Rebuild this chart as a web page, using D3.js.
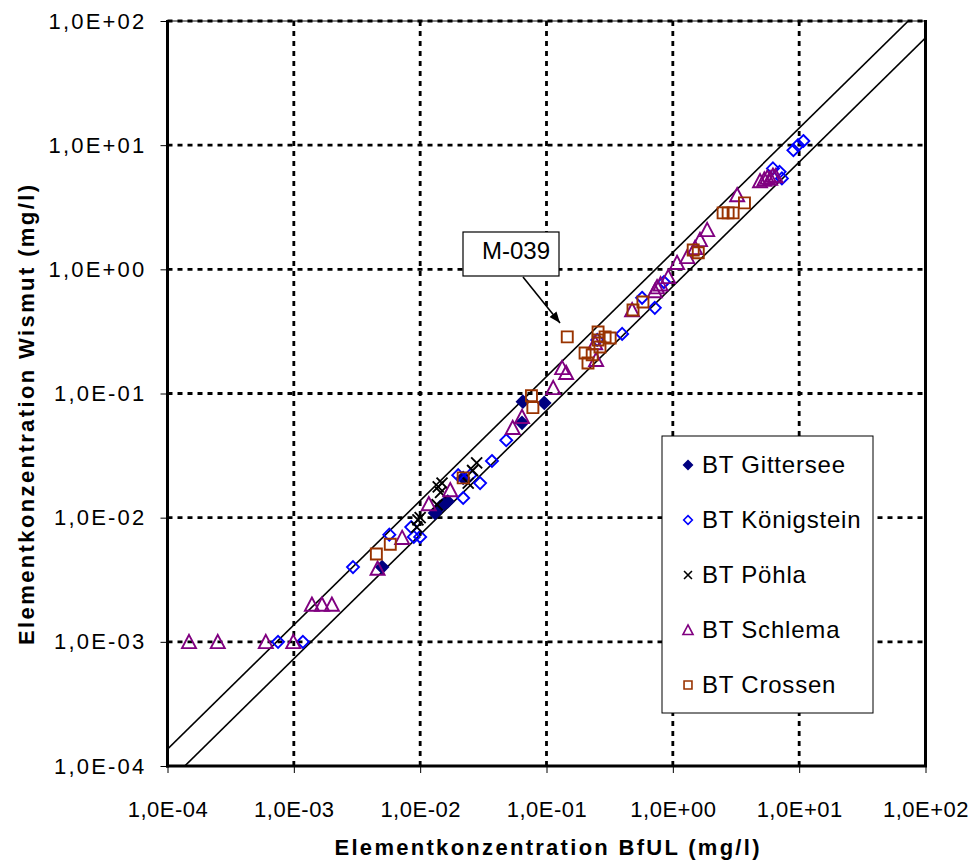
<!DOCTYPE html>
<html>
<head>
<meta charset="utf-8">
<script src="https://cdn.jsdelivr.net/npm/d3@7"></script>
<style>
  body { margin: 0; background: #fff; }
  text { font-family: "Liberation Sans", Arial, sans-serif; }
</style>
</head>
<body>
<div id="chart"></div>
<script>
// series: [BfUL, Wismut] in mg/l
var gittersee = [
  [5.0e-3, 4.0e-3], [1.31e-2, 1.09e-2], [1.44e-2, 1.22e-2], [1.57e-2, 1.31e-2],
  [1.65e-2, 1.35e-2], [2.19e-2, 2.09e-2], [6.4e-2, 5.8e-2], [6.5e-2, 8.6e-2],
  [9.6e-2, 8.4e-2]
];
var koenigstein = [
  [7.5e-4, 1.0e-3], [1.18e-3, 1.0e-3], [2.94e-3, 4.0e-3], [5.7e-3, 7.3e-3],
  [8.5e-3, 8.4e-3], [8.9e-3, 7.0e-3], [1.0e-2, 7.0e-3], [2.0e-2, 2.2e-2],
  [2.19e-2, 1.44e-2], [2.5e-2, 2.2e-2], [2.98e-2, 1.9e-2], [3.7e-2, 2.86e-2],
  [4.8e-2, 4.2e-2], [0.252, 0.27], [0.397, 0.302], [0.571, 0.59],
  [0.72, 0.49], [0.85, 0.79], [6.2, 6.5], [7.0, 6.1], [7.3, 5.4],
  [9.0, 9.1], [9.8, 10.0], [10.8, 10.8]
];
var poehla = [
  [9.4e-3, 8.4e-3], [9.6e-3, 9.6e-3], [1.0e-2, 1.0e-2], [1.36e-2, 1.27e-2],
  [1.39e-2, 1.77e-2], [1.49e-2, 1.9e-2], [1.45e-2, 1.6e-2], [2.4e-2, 1.9e-2],
  [2.6e-2, 2.4e-2], [2.8e-2, 2.76e-2]
];
var schlema = [
  [1.48e-4, 1.0e-3], [2.5e-4, 1.0e-3], [6.0e-4, 1.0e-3], [9.9e-4, 1.0e-3],
  [1.39e-3, 2.0e-3], [1.67e-3, 2.0e-3], [2.0e-3, 2.0e-3], [4.6e-3, 3.9e-3],
  [7.2e-3, 6.9e-3], [1.17e-2, 1.29e-2], [1.73e-2, 1.67e-2], [5.4e-2, 5.3e-2],
  [6.4e-2, 6.5e-2], [0.113, 0.111], [0.133, 0.161], [0.143, 0.147],
  [0.247, 0.187], [0.243, 0.255], [0.476, 0.471], [0.72, 0.67],
  [0.75, 0.72], [0.8, 0.76], [0.92, 0.87], [1.08, 1.13], [1.30, 1.26],
  [1.50, 1.49], [1.64, 1.73], [1.87, 2.08], [3.23, 3.97],
  [4.9, 5.15], [5.3, 5.3], [5.6, 5.5], [5.9, 5.4], [6.2, 5.7], [6.5, 5.65]
];
var crossen = [
  [4.5e-3, 5.1e-3], [5.8e-3, 6.1e-3], [2.19e-2, 2.09e-2], [7.6e-2, 9.6e-2],
  [7.8e-2, 7.7e-2], [0.146, 0.286], [0.202, 0.212], [0.213, 0.176],
  [0.23, 0.205], [0.256, 0.313], [0.256, 0.27], [0.265, 0.237],
  [0.291, 0.286], [0.319, 0.28], [0.484, 0.471], [0.58, 0.546],
  [1.45, 1.43], [1.59, 1.36], [2.50, 2.85], [2.74, 2.85], [3.0, 2.85],
  [3.69, 3.43]
];

var legendLabels = ["BT Gittersee", "BT Königstein", "BT Pöhla", "BT Schlema", "BT Crossen"];
var tickValues = [1e-4, 1e-3, 1e-2, 1e-1, 1e0, 1e1, 1e2];
var bandFactors = [1.37, 1 / 1.37];

var Chart = {
  settings: {
    width: 978,
    height: 863,
    left: 167.5,
    right: 925.5,
    top: 21,
    bottom: 766
  },

  series: [
    { key: "gittersee", data: gittersee, symbol: "diamond", color: "#000080", filled: true, size: 12 },
    { key: "koenigstein", data: koenigstein, symbol: "diamond", color: "#0000ff", filled: false, size: 12 },
    { key: "poehla", data: poehla, symbol: "cross", color: "#000000", filled: false, size: 11 },
    { key: "schlema", data: schlema, symbol: "triangle", color: "#800080", filled: false, size: 14 },
    { key: "crossen", data: crossen, symbol: "square", color: "#993300", filled: false, size: 11 }
  ],

  fmt: function(d) {
    var e = Math.round(Math.log10(d));
    return "1,0E" + (e < 0 ? "-" : "+") + String(Math.abs(e)).padStart(2, "0");
  },

  symbolPath: function(type, s) {
    var h = s / 2;
    if (type === "diamond") return "M0," + (-h) + "L" + h + ",0L0," + h + "L" + (-h) + ",0Z";
    if (type === "square") return "M" + (-h) + "," + (-h) + "h" + s + "v" + s + "h" + (-s) + "Z";
    if (type === "triangle") return "M0," + (-h) + "L" + h + "," + (h * 0.9) + "L" + (-h) + "," + (h * 0.9) + "Z";
    return "M" + (-h) + "," + (-h) + "L" + h + "," + h + "M" + h + "," + (-h) + "L" + (-h) + "," + h;
  },

  draw: function() {
    var s = Chart.settings;
    var svg = d3.select("#chart").append("svg")
      .attr("width", s.width).attr("height", s.height);

    var x = d3.scaleLog().domain([1e-4, 1e2]).range([s.left, s.right]);
    var y = d3.scaleLog().domain([1e-4, 1e2]).range([s.bottom, s.top]);

    svg.append("defs").append("clipPath").attr("id", "plotclip")
      .append("rect").attr("x", s.left).attr("y", s.top)
      .attr("width", s.right - s.left).attr("height", s.bottom - s.top);

    // grid
    var grid = svg.append("g");
    grid.selectAll(".vgrid").data(tickValues.slice(1, -1)).enter().append("line")
      .attr("x1", function(d) { return x(d); }).attr("x2", function(d) { return x(d); })
      .attr("y1", s.top).attr("y2", s.bottom)
      .attr("stroke", "#000").attr("stroke-width", 2.8).attr("stroke-dasharray", "5,5");
    grid.selectAll(".hgrid").data(tickValues.slice(1)).enter().append("line")
      .attr("y1", function(d) { return y(d); }).attr("y2", function(d) { return y(d); })
      .attr("x1", s.left).attr("x2", s.right)
      .attr("stroke", "#000").attr("stroke-width", 2.8).attr("stroke-dasharray", "5,5");

    // frame
    svg.append("line").attr("x1", s.left).attr("x2", s.right).attr("y1", s.top).attr("y2", s.top)
      .attr("stroke", "#000").attr("stroke-width", 1);
    svg.append("line").attr("x1", s.right).attr("x2", s.right).attr("y1", s.top - 1).attr("y2", s.bottom)
      .attr("stroke", "#000").attr("stroke-width", 3);

    // axes
    var xAxis = d3.axisBottom(x).tickValues(tickValues).tickFormat(Chart.fmt).tickSize(7).tickPadding(28);
    var yAxis = d3.axisLeft(y).tickValues(tickValues).tickFormat(Chart.fmt).tickSize(7).tickPadding(14);

    var gx = svg.append("g").attr("transform", "translate(0," + s.bottom + ")").call(xAxis);
    var gy = svg.append("g").attr("transform", "translate(" + s.left + ",0)").call(yAxis);
    [gx, gy].forEach(function(g) {
      g.select(".domain").remove();
      g.selectAll(".tick line").attr("stroke", "#000").attr("stroke-width", 1);
      g.selectAll(".tick text").attr("fill", "#000")
        .style("font-family", "'Liberation Sans', Arial, sans-serif");
    });
    gx.selectAll(".tick text").style("font-size", "22px").style("letter-spacing", "0.5px");
    gy.selectAll(".tick text").style("font-size", "22px").style("letter-spacing", "2.2px");

    svg.append("line").attr("x1", s.left).attr("x2", s.left).attr("y1", s.top - 1).attr("y2", s.bottom + 1.5)
      .attr("stroke", "#000").attr("stroke-width", 3);
    svg.append("line").attr("x1", s.left - 1.5).attr("x2", s.right + 1.5).attr("y1", s.bottom).attr("y2", s.bottom)
      .attr("stroke", "#000").attr("stroke-width", 3);

    // 1:1 band lines
    var band = svg.append("g").attr("clip-path", "url(#plotclip)");
    band.selectAll(".band").data(bandFactors).enter().append("line")
      .attr("x1", function(f) { return x(1e-5); }).attr("y1", function(f) { return y(1e-5 * f); })
      .attr("x2", function(f) { return x(1e3); }).attr("y2", function(f) { return y(1e3 * f); })
      .attr("stroke", "#000").attr("stroke-width", 1.6);

    // points
    var pts = svg.append("g").attr("clip-path", "url(#plotclip)");
    Chart.series.forEach(function(ser) {
      pts.append("g").selectAll("path").data(ser.data).enter().append("path")
        .attr("transform", function(d) { return "translate(" + x(d[0]) + "," + y(d[1]) + ")"; })
        .attr("d", Chart.symbolPath(ser.symbol, ser.size))
        .attr("fill", ser.filled ? ser.color : "none")
        .attr("stroke", ser.color)
        .attr("stroke-width", 1.9);
    });

    // axis titles
    svg.append("text").attr("x", 547).attr("y", 855)
      .attr("text-anchor", "middle").style("font-size", "22px").style("font-weight", "bold")
      .attr("textLength", 425).attr("lengthAdjust", "spacing")
      .text("Elementkonzentration BfUL (mg/l)");
    svg.append("text").attr("transform", "translate(34,415) rotate(-90)")
      .attr("text-anchor", "middle").style("font-size", "22px").style("font-weight", "bold")
      .attr("textLength", 460).attr("lengthAdjust", "spacing")
      .text("Elementkonzentration Wismut (mg/l)");

    // annotation M-039
    var note = svg.append("g");
    note.append("rect").attr("x", 463).attr("y", 232).attr("width", 96).attr("height", 44)
      .attr("fill", "#fff").attr("stroke", "#000").attr("stroke-width", 1.2);
    note.append("text").attr("x", 516).attr("y", 259).attr("text-anchor", "middle")
      .style("font-size", "24px").text("M-039");
    svg.append("defs").append("marker").attr("id", "arrow")
      .attr("viewBox", "0 0 10 10").attr("refX", 10).attr("refY", 5)
      .attr("markerWidth", 7).attr("markerHeight", 7).attr("orient", "auto")
      .append("path").attr("d", "M0,1L10,5L0,9Z").attr("fill", "#000");
    note.append("line").attr("x1", 523).attr("y1", 277).attr("x2", 560).attr("y2", 323)
      .attr("stroke", "#000").attr("stroke-width", 1.6).attr("marker-end", "url(#arrow)");

    // legend
    var lg = svg.append("g").attr("transform", "translate(662,436)");
    lg.append("rect").attr("width", 211).attr("height", 277)
      .attr("fill", "#fff").attr("stroke", "#000").attr("stroke-width", 1);
    var item = lg.selectAll(".item").data(Chart.series).enter().append("g")
      .attr("transform", function(d, i) { return "translate(0," + (27 + i * 55) + ")"; });
    item.append("path").attr("transform", "translate(26,2)")
      .attr("d", function(d) { return Chart.symbolPath(d.symbol, d.size * 0.72); })
      .attr("fill", function(d) { return d.filled ? d.color : "none"; })
      .attr("stroke", function(d) { return d.color; })
      .attr("stroke-width", 1.6);
    item.append("text").attr("x", 40).attr("y", 10)
      .style("font-size", "24px").style("letter-spacing", "0.8px")
      .text(function(d, i) { return legendLabels[i]; });
  }
};

Chart.draw();
</script>
</body>
</html>
